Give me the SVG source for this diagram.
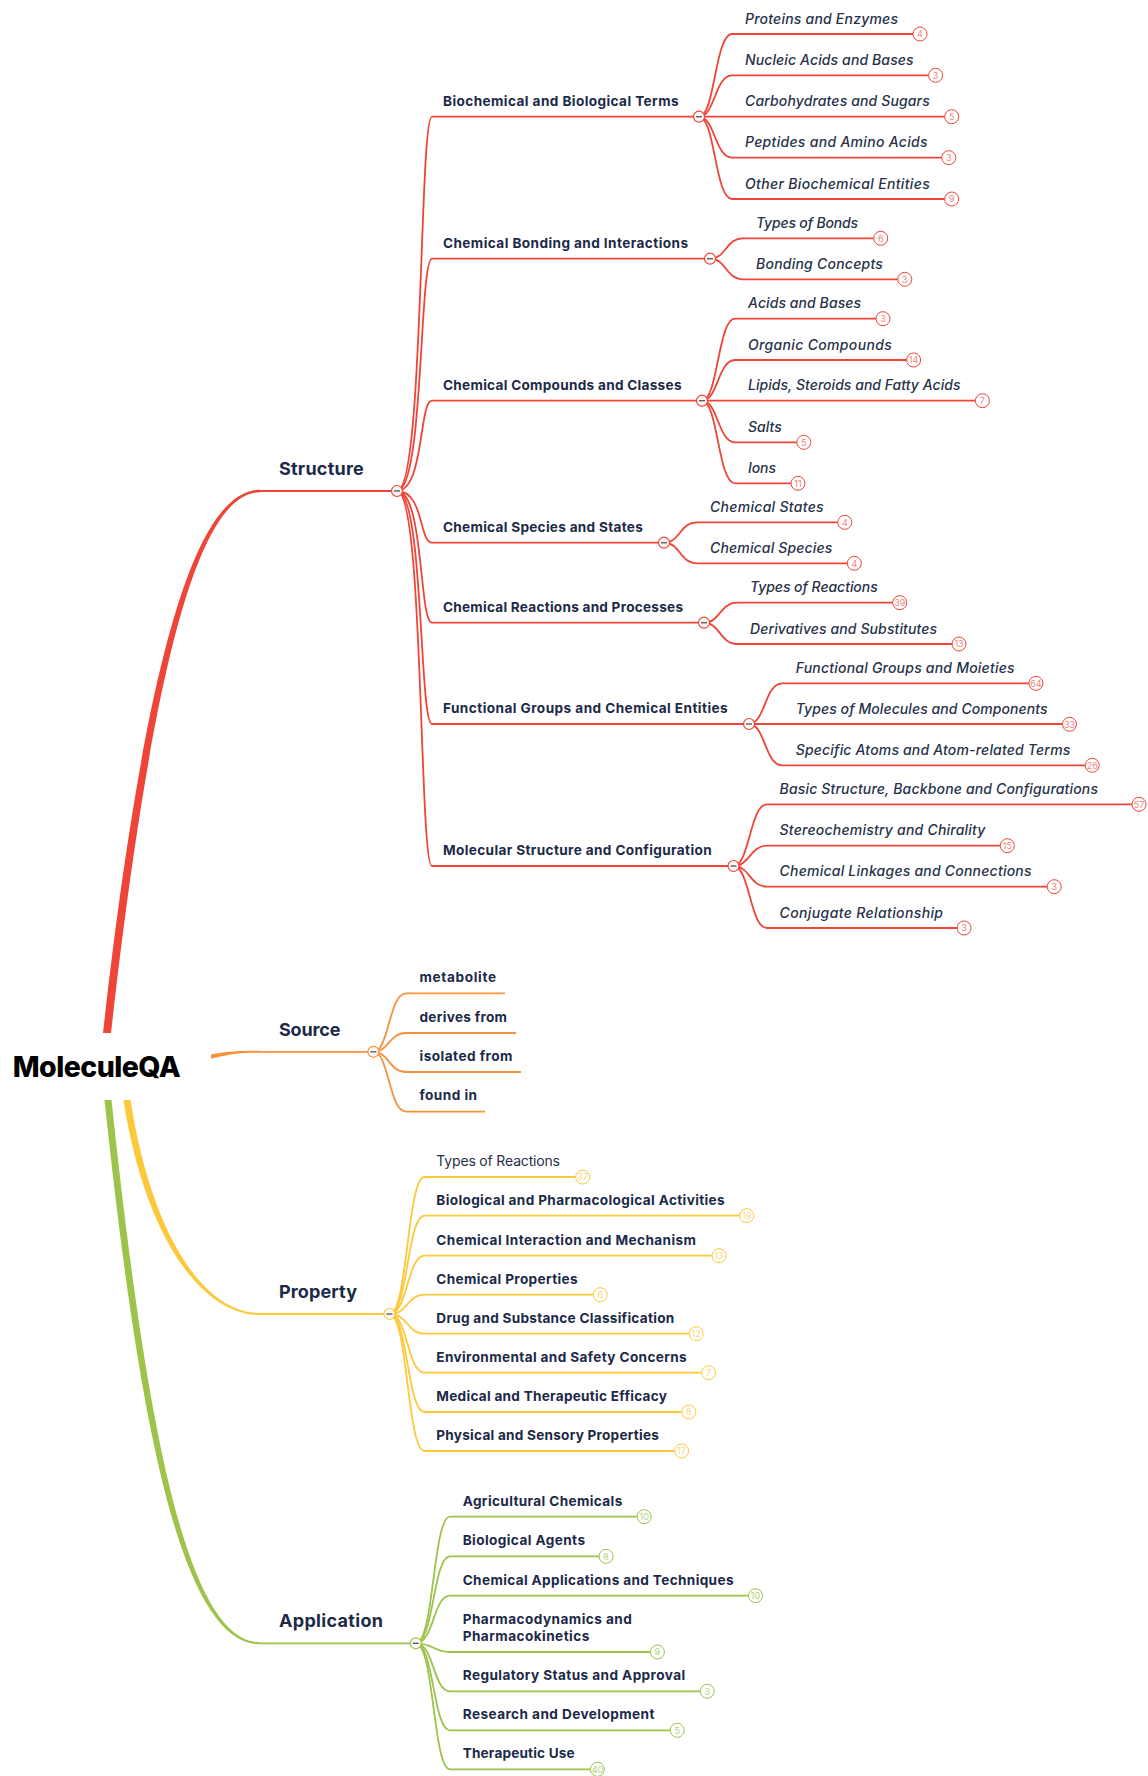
<svg xmlns="http://www.w3.org/2000/svg" width="1148" height="1776" viewBox="0 0 1148 1776">
<style>
text{font-family:Inter,"Open Sans","Liberation Sans",sans-serif}
.t0{font-size:28.5px;font-weight:800;fill:#000}
.t1{font-size:18px;font-weight:700;fill:#1C2A48}
.t2{font-size:13.6px;font-weight:700;fill:#1C2A48}
.t3{font-size:14px;font-style:italic;font-weight:500;fill:#27324A}
.t4{font-size:14px;font-weight:400;fill:#27324A}
.bt{font-size:9px;text-anchor:middle}
.lr{fill:none;stroke:#EF4438;stroke-width:1.8}
.lo{fill:none;stroke:#F7923A;stroke-width:1.8}
.ly{fill:none;stroke:#FDC83A;stroke-width:1.8}
.lg{fill:none;stroke:#9DC34A;stroke-width:1.8}
.br{fill:#fff;stroke:#EF4438;stroke-width:1}
.by{fill:#fff;stroke:#FDC83A;stroke-width:1}
.bg{fill:#fff;stroke:#9DC34A;stroke-width:1}
.xr{fill:#F3837C}.xy{fill:#F8D77E}.xg{fill:#B4D27C}
.cr{fill:#f8f8f8;stroke:#EF4438;stroke-width:1.2}
.co{fill:#f8f8f8;stroke:#F7923A;stroke-width:1.2}
.cy{fill:#f8f8f8;stroke:#FDC83A;stroke-width:1.2}
.cg{fill:#f8f8f8;stroke:#9DC34A;stroke-width:1.2}
.mn{stroke:#6a5a58;stroke-width:1.4}
</style>
<g id="connectors">
<path d="M103 1033 C146 650 197 489.8 260 489.8 L260 492.2 C201 492.2 154 652 111 1033 Z" fill="#EF4438"/>
<path d="M211 1054.5 C230 1051 240 1050.8 260 1050.8 L260 1052.8 C240 1052.8 230 1054 211 1058.7 Z" fill="#F7923A"/>
<path d="M123.5 1100 C143.5 1231 199 1315 260 1315 L260 1313 C201 1313 150.5 1229 130.5 1100 Z" fill="#FDC83A"/>
<path d="M104.5 1100 C136.5 1400 177 1644.3 260 1644.3 L260 1642.3 C183 1642.3 143.5 1400 111.5 1100 Z" fill="#9DC34A"/>
<path class="lr" d="M259 491 H397"/>
<path class="lo" d="M259 1051.8 H373.4"/>
<path class="ly" d="M259 1314 H389.5"/>
<path class="lg" d="M259 1643.3 H415.8"/>
<g class="lr">
<path d="M397 491 C424 491 419 116.7 432 116.7 H699"/>
<path d="M397 491 C424 491 419 258.7 432 258.7 H710"/>
<path d="M397 491 C424 491 419 400.7 432 400.7 H702"/>
<path d="M397 491 C424 491 419 542.7 432 542.7 H664"/>
<path d="M397 491 C424 491 419 622.7 432 622.7 H704"/>
<path d="M397 491 C424 491 419 724 432 724 H749"/>
<path d="M397 491 C424 491 419 866 432 866 H733.5"/>
<path d="M699 116.7 C715 116.7 715 34 732 34 H913"/>
<path d="M699 116.7 C715 116.7 715 75.3 732 75.3 H928.6"/>
<path d="M699 116.7 H944.7"/>
<path d="M699 116.7 C715 116.7 715 157.7 732 157.7 H941.8"/>
<path d="M699 116.7 C715 116.7 715 199 732 199 H944.7"/>
<path d="M710 258.7 C726 258.7 726 238.3 743 238.3 H873.7"/>
<path d="M710 258.7 C726 258.7 726 279.3 743 279.3 H897.8"/>
<path d="M702 400.7 C718 400.7 718 318.7 735 318.7 H876"/>
<path d="M702 400.7 C718 400.7 718 360 735 360 H906.6"/>
<path d="M702 400.7 H975.4"/>
<path d="M702 400.7 C718 400.7 718 442.3 735 442.3 H796.8"/>
<path d="M702 400.7 C718 400.7 718 483.3 735 483.3 H791"/>
<path d="M664 542.7 C680 542.7 680 522.3 697 522.3 H837.8"/>
<path d="M664 542.7 C680 542.7 680 563.3 697 563.3 H847.3"/>
<path d="M704 622.7 C720 622.7 720 602.7 737 602.7 H892.7"/>
<path d="M704 622.7 C720 622.7 720 644 737 644 H952"/>
<path d="M749 724 C765 724 765 683.3 782 683.3 H1028.9"/>
<path d="M749 724 H1062.5"/>
<path d="M749 724 C765 724 765 765.3 782 765.3 H1085.2"/>
<path d="M733.5 866 C749.5 866 750 804.3 767 804.3 H1132"/>
<path d="M733.5 866 C749.5 866 750 845.7 767 845.7 H1000.3"/>
<path d="M733.5 866 C749.5 866 750 886.7 767 886.7 H1047.2"/>
<path d="M733.5 866 C749.5 866 750 928 767 928 H957.1"/>
</g>
<g class="lo">
<path d="M373.4 1051.8 C389 1051.8 389 993.3 406 993.3 H505"/>
<path d="M373.4 1051.8 C389 1051.8 389 1033 406 1033 H516"/>
<path d="M373.4 1051.8 C389 1051.8 389 1072 406 1072 H521"/>
<path d="M373.4 1051.8 C389 1051.8 389 1111.7 406 1111.7 H485"/>
</g>
<g class="ly">
<path d="M389.5 1314 C408 1314 407 1177 424.6 1177 H575.7"/>
<path d="M389.5 1314 C408 1314 407 1215.7 424.6 1215.7 H739.7"/>
<path d="M389.5 1314 C408 1314 407 1255.7 424.6 1255.7 H712"/>
<path d="M389.5 1314 C408 1314 407 1294.7 424.6 1294.7 H593.3"/>
<path d="M389.5 1314 C408 1314 407 1333.7 424.6 1333.7 H689.2"/>
<path d="M389.5 1314 C408 1314 407 1372.7 424.6 1372.7 H701.6"/>
<path d="M389.5 1314 C408 1314 407 1412 424.6 1412 H681.9"/>
<path d="M389.5 1314 C408 1314 407 1451 424.6 1451 H674.6"/>
</g>
<g class="lg">
<path d="M415.8 1643.3 C434 1643.3 433 1516.7 450 1516.7 H637.2"/>
<path d="M415.8 1643.3 C434 1643.3 433 1556.3 450 1556.3 H599.1"/>
<path d="M415.8 1643.3 C434 1643.3 433 1595.7 450 1595.7 H748.5"/>
<path d="M415.8 1643.3 C434 1643.3 433 1652 450 1652 H650.4"/>
<path d="M415.8 1643.3 C434 1643.3 433 1691.3 450 1691.3 H700.2"/>
<path d="M415.8 1643.3 C434 1643.3 433 1730.3 450 1730.3 H670.2"/>
<path d="M415.8 1643.3 C434 1643.3 433 1769.3 450 1769.3 H590.4"/>
</g>
</g>

<g id="root"><text class="t0" x="12.7" y="1077" textLength="168">MoleculeQA</text></g>

<g id="structure">
<text class="t1" x="279" y="474.5" textLength="84.8">Structure</text>
<circle class="cr" cx="397" cy="491" r="5.5"/><line class="mn" x1="394" y1="491" x2="400" y2="491"/>
</g>
<g id="biochemical">
<text class="t2" x="443" y="105.7" textLength="235.6">Biochemical and Biological Terms</text>
<circle class="cr" cx="699" cy="116.7" r="5.5"/><line class="mn" x1="696" y1="116.7" x2="702" y2="116.7"/>
<g id="proteins"><text class="t3" x="745" y="23.5" textLength="153">Proteins and Enzymes</text><circle class="br" cx="920" cy="34" r="7"/><text class="bt xr" x="920" y="37.2">4</text></g>
<g id="nucleic"><text class="t3" x="745" y="64.8" textLength="168.6">Nucleic Acids and Bases</text><circle class="br" cx="935.6" cy="75.3" r="7"/><text class="bt xr" x="935.6" y="78.5">3</text></g>
<g id="carbohydrates"><text class="t3" x="745" y="106.2" textLength="184.7">Carbohydrates and Sugars</text><circle class="br" cx="951.7" cy="116.7" r="7"/><text class="bt xr" x="951.7" y="119.9">5</text></g>
<g id="peptides"><text class="t3" x="745" y="147.2" textLength="182.5">Peptides and Amino Acids</text><circle class="br" cx="948.8" cy="157.7" r="7"/><text class="bt xr" x="948.8" y="160.9">3</text></g>
<g id="otherbio"><text class="t3" x="745" y="188.5" textLength="184.7">Other Biochemical Entities</text><circle class="br" cx="951.7" cy="199" r="7"/><text class="bt xr" x="951.7" y="202.2">9</text></g>
</g>
<g id="bonding">
<text class="t2" x="443" y="247.7" textLength="245">Chemical Bonding and Interactions</text>
<circle class="cr" cx="710" cy="258.7" r="5.5"/><line class="mn" x1="707" y1="258.7" x2="713" y2="258.7"/>
<g id="typesbonds"><text class="t3" x="756" y="227.8" textLength="102">Types of Bonds</text><circle class="br" cx="880.7" cy="238.3" r="7"/><text class="bt xr" x="880.7" y="241.5">6</text></g>
<g id="bondingconcepts"><text class="t3" x="756" y="268.8" textLength="126.9">Bonding Concepts</text><circle class="br" cx="904.8" cy="279.3" r="7"/><text class="bt xr" x="904.8" y="282.5">3</text></g>
</g>
<g id="compounds">
<text class="t2" x="443" y="389.7" textLength="238.5">Chemical Compounds and Classes</text>
<circle class="cr" cx="702" cy="400.7" r="5.5"/><line class="mn" x1="699" y1="400.7" x2="705" y2="400.7"/>
<g id="acidsbases"><text class="t3" x="748" y="308.2" textLength="113">Acids and Bases</text><circle class="br" cx="883" cy="318.7" r="7"/><text class="bt xr" x="883" y="321.9">3</text></g>
<g id="organic"><text class="t3" x="748" y="349.5" textLength="143.7">Organic Compounds</text><circle class="br" cx="913.6" cy="360" r="7"/><text class="bt xr" x="913.6" y="363.2">14</text></g>
<g id="lipids"><text class="t3" x="748" y="390.2" textLength="212.5">Lipids, Steroids and Fatty Acids</text><circle class="br" cx="982.4" cy="400.7" r="7"/><text class="bt xr" x="982.4" y="403.9">7</text></g>
<g id="salts"><text class="t3" x="748" y="431.8" textLength="33.8">Salts</text><circle class="br" cx="803.8" cy="442.3" r="7"/><text class="bt xr" x="803.8" y="445.5">5</text></g>
<g id="ions"><text class="t3" x="748" y="472.8" textLength="28">Ions</text><circle class="br" cx="798" cy="483.3" r="7"/><text class="bt xr" x="798" y="486.5">11</text></g>
</g>
<g id="species">
<text class="t2" x="443" y="531.7" textLength="199.8">Chemical Species and States</text>
<circle class="cr" cx="664" cy="542.7" r="5.5"/><line class="mn" x1="661" y1="542.7" x2="667" y2="542.7"/>
<g id="chemstates"><text class="t3" x="710" y="511.8" textLength="113.6">Chemical States</text><circle class="br" cx="844.8" cy="522.3" r="7"/><text class="bt xr" x="844.8" y="525.5">4</text></g>
<g id="chemspecies"><text class="t3" x="710" y="552.8" textLength="122.4">Chemical Species</text><circle class="br" cx="854.3" cy="563.3" r="7"/><text class="bt xr" x="854.3" y="566.5">4</text></g>
</g>
<g id="reactions">
<text class="t2" x="443" y="611.7" textLength="240">Chemical Reactions and Processes</text>
<circle class="cr" cx="704" cy="622.7" r="5.5"/><line class="mn" x1="701" y1="622.7" x2="707" y2="622.7"/>
<g id="typesreactions"><text class="t3" x="750" y="592.2" textLength="127.7">Types of Reactions</text><circle class="br" cx="899.7" cy="602.7" r="7"/><text class="bt xr" x="899.7" y="605.9">39</text></g>
<g id="derivatives"><text class="t3" x="750" y="633.5" textLength="187">Derivatives and Substitutes</text><circle class="br" cx="959" cy="644" r="7"/><text class="bt xr" x="959" y="647.2">13</text></g>
</g>
<g id="functional">
<text class="t2" x="443" y="713" textLength="284.7">Functional Groups and Chemical Entities</text>
<circle class="cr" cx="749" cy="724" r="5.5"/><line class="mn" x1="746" y1="724" x2="752" y2="724"/>
<g id="moieties"><text class="t3" x="795.7" y="672.8" textLength="218.9">Functional Groups and Moieties</text><circle class="br" cx="1035.9" cy="683.3" r="7"/><text class="bt xr" x="1035.9" y="686.5">64</text></g>
<g id="molecules"><text class="t3" x="795.7" y="713.8" textLength="251.9">Types of Molecules and Components</text><circle class="br" cx="1069.5" cy="724.3" r="7"/><text class="bt xr" x="1069.5" y="727.5">33</text></g>
<g id="atoms"><text class="t3" x="795.7" y="754.8" textLength="274.6">Specific Atoms and Atom-related Terms</text><circle class="br" cx="1092.2" cy="765.3" r="7"/><text class="bt xr" x="1092.2" y="768.5">26</text></g>
</g>
<g id="molecular">
<text class="t2" x="443" y="855" textLength="268.6">Molecular Structure and Configuration</text>
<circle class="cr" cx="733.5" cy="866" r="5.5"/><line class="mn" x1="730.5" y1="866" x2="736.5" y2="866"/>
<g id="basic"><text class="t3" x="779.6" y="793.8" textLength="318.4">Basic Structure, Backbone and Configurations</text><circle class="br" cx="1139" cy="804.3" r="7"/><text class="bt xr" x="1139" y="807.5">57</text></g>
<g id="stereo"><text class="t3" x="779.6" y="835.2" textLength="205.8">Stereochemistry and Chirality</text><circle class="br" cx="1007.3" cy="845.7" r="7"/><text class="bt xr" x="1007.3" y="848.9">15</text></g>
<g id="linkages"><text class="t3" x="779.6" y="876.2" textLength="251.9">Chemical Linkages and Connections</text><circle class="br" cx="1054.2" cy="886.7" r="7"/><text class="bt xr" x="1054.2" y="889.9">3</text></g>
<g id="conjugate"><text class="t3" x="779.6" y="917.5" textLength="163.4">Conjugate Relationship</text><circle class="br" cx="964.1" cy="928" r="7"/><text class="bt xr" x="964.1" y="931.2">3</text></g>
</g>

<g id="source">
<text class="t1" x="279" y="1035.5" textLength="61.4">Source</text>
<circle class="co" cx="373.4" cy="1051.8" r="5.5"/><line class="mn" x1="370.4" y1="1051.8" x2="376.4" y2="1051.8"/>
<g id="metabolite"><text class="t2" x="419.5" y="981.8" textLength="76.5">metabolite</text></g>
<g id="derives"><text class="t2" x="419.5" y="1021.5" textLength="87.5">derives from</text></g>
<g id="isolated"><text class="t2" x="419.5" y="1060.5" textLength="93">isolated from</text></g>
<g id="foundin"><text class="t2" x="419.5" y="1100.2" textLength="57.5">found in</text></g>
</g>

<g id="property">
<text class="t1" x="279" y="1297.5" textLength="78">Property</text>
<circle class="cy" cx="389.5" cy="1314" r="5.5"/><line class="mn" x1="386.5" y1="1314" x2="392.5" y2="1314"/>
<g id="p-types"><text class="t4" x="436.3" y="1166" textLength="123.7">Types of Reactions</text><circle class="by" cx="582.7" cy="1177" r="7"/><text class="bt xy" x="582.7" y="1180.2">37</text></g>
<g id="p-bio"><text class="t2" x="436.3" y="1204.7" textLength="288.4">Biological and Pharmacological Activities</text><circle class="by" cx="746.7" cy="1215.7" r="7"/><text class="bt xy" x="746.7" y="1218.9">19</text></g>
<g id="p-inter"><text class="t2" x="436.3" y="1244.7" textLength="259.7">Chemical Interaction and Mechanism</text><circle class="by" cx="719" cy="1255.7" r="7"/><text class="bt xy" x="719" y="1258.9">13</text></g>
<g id="p-chem"><text class="t2" x="436.3" y="1283.7" textLength="141.3">Chemical Properties</text><circle class="by" cx="600.3" cy="1294.7" r="7"/><text class="bt xy" x="600.3" y="1297.9">6</text></g>
<g id="p-drug"><text class="t2" x="436.3" y="1322.7" textLength="237.9">Drug and Substance Classification</text><circle class="by" cx="696.2" cy="1333.7" r="7"/><text class="bt xy" x="696.2" y="1336.9">12</text></g>
<g id="p-env"><text class="t2" x="436.3" y="1361.7" textLength="250.4">Environmental and Safety Concerns</text><circle class="by" cx="708.6" cy="1372.7" r="7"/><text class="bt xy" x="708.6" y="1375.9">7</text></g>
<g id="p-med"><text class="t2" x="436.3" y="1401" textLength="230.7">Medical and Therapeutic Efficacy</text><circle class="by" cx="688.9" cy="1412" r="7"/><text class="bt xy" x="688.9" y="1415.2">8</text></g>
<g id="p-phys"><text class="t2" x="436.3" y="1440" textLength="222.6">Physical and Sensory Properties</text><circle class="by" cx="681.6" cy="1451" r="7"/><text class="bt xy" x="681.6" y="1454.2">17</text></g>
</g>

<g id="application">
<text class="t1" x="279" y="1626.8" textLength="104">Application</text>
<circle class="cg" cx="415.8" cy="1643.3" r="5.5"/><line class="mn" x1="412.8" y1="1643.3" x2="418.8" y2="1643.3"/>
<g id="a-agri"><text class="t2" x="462.7" y="1505.7" textLength="159.6">Agricultural Chemicals</text><circle class="bg" cx="644.2" cy="1516.7" r="7"/><text class="bt xg" x="644.2" y="1519.9">10</text></g>
<g id="a-bio"><text class="t2" x="462.7" y="1545.3" textLength="122.3">Biological Agents</text><circle class="bg" cx="606.1" cy="1556.3" r="7"/><text class="bt xg" x="606.1" y="1559.5">8</text></g>
<g id="a-chem"><text class="t2" x="462.7" y="1584.7" textLength="270.8">Chemical Applications and Techniques</text><circle class="bg" cx="755.5" cy="1595.7" r="7"/><text class="bt xg" x="755.5" y="1598.9">10</text></g>
<g id="a-pharma"><text class="t2" x="462.7" y="1623.5" textLength="169.1">Pharmacodynamics and</text><text class="t2" x="462.7" y="1641.3" textLength="126.6">Pharmacokinetics</text><circle class="bg" cx="657.4" cy="1652" r="7"/><text class="bt xg" x="657.4" y="1655.2">9</text></g>
<g id="a-reg"><text class="t2" x="462.7" y="1680.3" textLength="222.5">Regulatory Status and Approval</text><circle class="bg" cx="707.2" cy="1691.3" r="7"/><text class="bt xg" x="707.2" y="1694.5">3</text></g>
<g id="a-res"><text class="t2" x="462.7" y="1719.3" textLength="191.8">Research and Development</text><circle class="bg" cx="677.2" cy="1730.3" r="7"/><text class="bt xg" x="677.2" y="1733.5">5</text></g>
<g id="a-ther"><text class="t2" x="462.7" y="1758.3" textLength="112">Therapeutic Use</text><circle class="bg" cx="597.4" cy="1769.3" r="7"/><text class="bt xg" x="597.4" y="1772.5">40</text></g>
</g>
</svg>
